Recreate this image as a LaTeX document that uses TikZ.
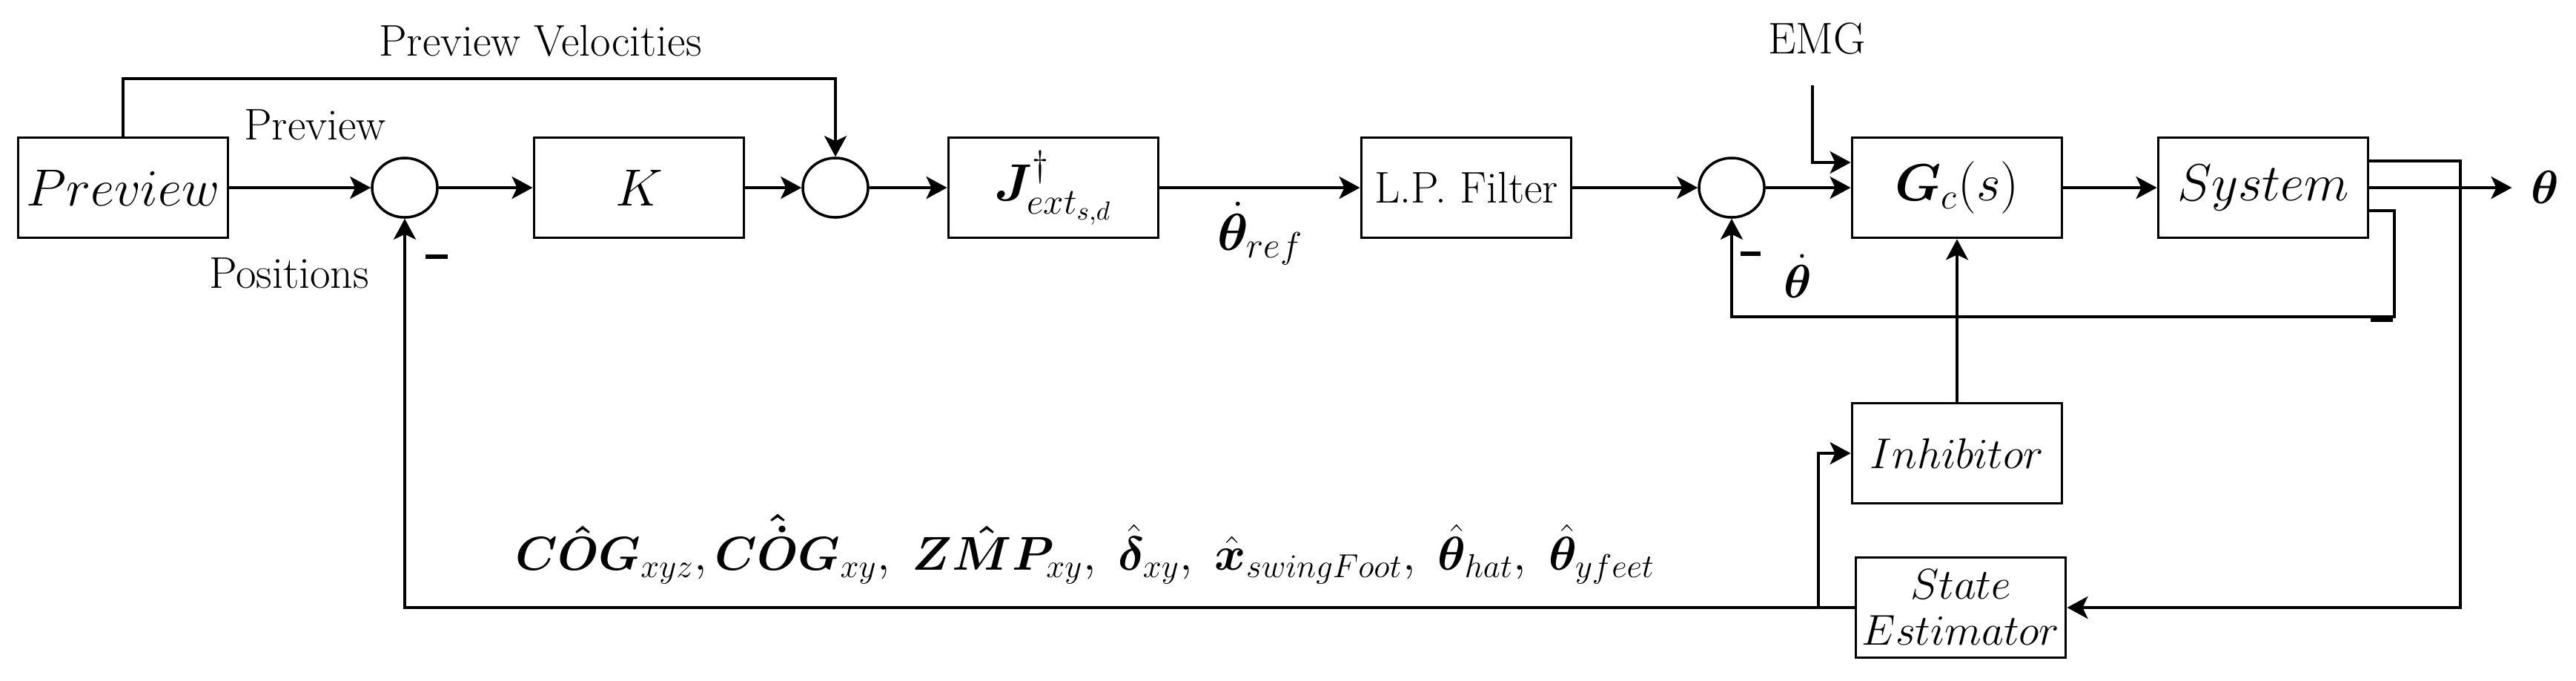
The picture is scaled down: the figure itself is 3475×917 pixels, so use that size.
\RequirePackage{fix-cm}
\documentclass[tikz,border=0pt]{standalone}
\usepackage{amsmath,bm}
\usetikzlibrary{arrows.meta,shapes.geometric}
\begin{document}
\begin{tikzpicture}[x=0.01cm,y=-0.01cm,
  blk/.style={draw,line width=1.05pt,minimum width=2.83cm,minimum height=1.35cm,inner sep=0pt,font=\fontsize{20}{24}\selectfont},
  sblk/.style={blk,font=\fontsize{16.5}{17.6}\selectfont},
  sumnode/.style={draw,ellipse,line width=1.0pt,minimum width=0.88cm,minimum height=0.80cm,inner sep=0pt},
  lbl/.style={inner sep=0pt,font=\fontsize{17}{20}\selectfont},
  wire/.style={line width=1.1pt},
  arr/.style={wire,-{Stealth[length=0.28cm,width=0.30cm,inset=0.07cm]}},
  minusbar/.style={fill=black,inner sep=0pt}
]
\fill[white] (0,0) rectangle (3475,917);
\useasboundingbox (0,0) rectangle (3475,917);

% blocks
\node[blk] (prev) at (166,253) {$Preview$};
\node[sumnode] (s1) at (546,253) {};
\node[blk] (K) at (862,253) {$K$};
\node[sumnode] (s2) at (1127,253) {};
\node[blk] (J) at (1421,253) {$\bm{J}^{\dagger}_{ext_{s,d}}$};
\node[blk,font=\fontsize{17}{20}\selectfont] (lp) at (1978,253) {L.P. Filter};
\node[sumnode] (s3) at (2336,253) {};
\node[blk] (gc) at (2640,253) {$\bm{G}_c(s)$};
\node[blk] (sys) at (3053,253) {$System$};
\node[sblk] (inh) at (2640,611) {$Inhibitor$};
\node[sblk,align=center] (se) at (2645,819) {$State$\\$Estimator$};

% labels
\node[lbl] (pvl) at (729,55) {Preview Velocities};
\node[lbl] (pl) at (425,168) {Preview};
\node[lbl] (pos) at (390,368) {Positions};
\node[lbl,font=\fontsize{20}{24}\selectfont] (tref) at (1700,315) {$\dot{\bm{\theta}}_{ref}$};
\node[lbl] (emg) at (2451,52) {EMG};
\node[lbl,font=\fontsize{18}{22}\selectfont] (tdot) at (2425,372) {$\dot{\bm{\theta}}$};
\node[lbl,font=\fontsize{18}{22}\selectfont,inner xsep=0.25cm] (th) at (3433,253) {$\bm{\theta}$};
\node[lbl,font=\fontsize{18.2}{22}\selectfont] (form) at (1464,740) {$\bm{C\hat{O}G}_{xyz},\bm{C\hat{\dot{O}}G}_{xy},\ \bm{Z\hat{M}P}_{xy},\ \hat{\bm{\delta}}_{xy},\ \hat{\bm{x}}_{swingFoot},\ \hat{\bm{\theta}}_{hat},\ \hat{\bm{\theta}}_{yfeet}$};

% minus signs
\node[minusbar,minimum width=0.3cm,minimum height=0.06cm] (m1) at (589,346) {};
\node[minusbar,minimum width=0.27cm,minimum height=0.055cm] (m3) at (2361,342) {};
\node[minusbar,minimum width=0.3cm,minimum height=0.05cm] (m4) at (3213,431) {};

% coordinates
\coordinate (emgs) at (2445,115);
\coordinate (c1) at (3319,819);
\coordinate (c2) at (3230,427);
\coordinate (br) at (2453,819);

% forward path
\draw[arr] (prev) -- (s1);
\draw[arr] (s1) -- (K);
\draw[arr] (K) -- (s2);
\draw[arr] (s2) -- (J);
\draw[arr] (J) -- (lp);
\draw[arr] (lp) -- (s3);
\draw[arr] (s3) -- (gc);
\draw[arr] (gc) -- (sys);
\draw[arr] (sys) -- (th);

% preview velocities
\draw[arr] (prev.north) -- ++(0,-78) -| (s2.north);
% EMG
\draw[arr] (emgs) |- ([yshift=0.34cm]gc.west);
% inhibitor
\draw[arr] (inh) -- (gc);
% feedback loops
\draw[arr] ([yshift=0.36cm]sys.east) -| (c1) -- (se.east);
\draw[arr] ([yshift=-0.31cm]sys.east) -| (c2) -| (s3.south);
\draw[arr] (se.west) -| (s1.south);
\draw[arr] (br) |- (inh.west);
\end{tikzpicture}
\end{document}
